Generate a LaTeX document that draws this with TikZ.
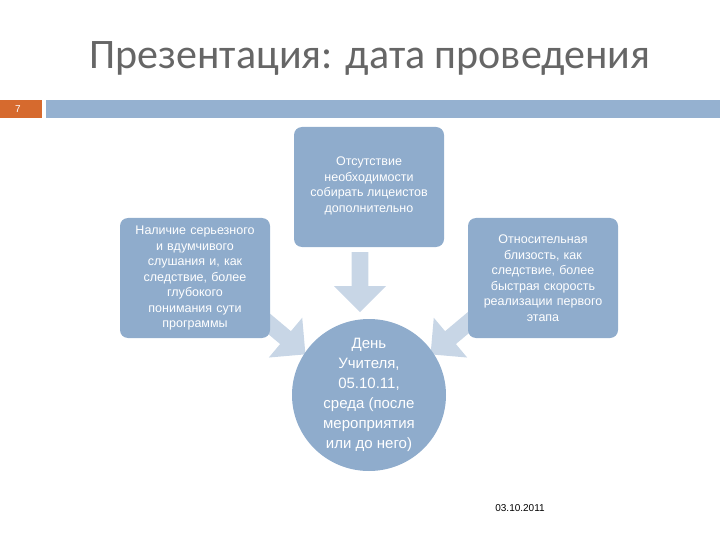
\documentclass[tikz,border=0pt]{standalone}
\usepackage{fontspec}
\setmainfont{Liberation Sans}
\newfontfamily\titlefont{Carlito}
\usetikzlibrary{shapes.arrows}
\definecolor{boxc}{RGB}{143,172,204}
\definecolor{barc}{RGB}{149,177,208}
\definecolor{arrc}{RGB}{200,214,230}
\definecolor{orc}{RGB}{214,106,46}
\begin{document}
\begin{tikzpicture}[x=1pt,y=-1pt,
  rbox/.style={fill=boxc,rounded corners=8pt,minimum width=150pt,minimum height=120pt,text=white,align=center,font=\fontsize{12.5}{15.5}\selectfont,text width=150pt,inner sep=0pt},
  arr/.style={single arrow,fill=arrc,minimum height=60pt,minimum width=52pt,single arrow head extend=13pt,inner sep=6pt}]
\useasboundingbox (0,0) rectangle (720,540);
\node[text=black!60,font=\titlefont\fontsize{42}{44}\selectfont] (title) at (370,58) {Презентация: дата проведения};
\fill[orc] (0,100) rectangle (42,118);
\node[text=white,font=\fontsize{10}{11}\selectfont] (num) at (18,109) {7};
\fill[barc] (46,100) rectangle (720,118);
\node[arr,rotate=-90] (a1) at (360,278) {};
\node[arr,rotate=-40,minimum height=58pt] (a2) at (280,333) {};
\node[arr,rotate=-140,minimum height=58pt] (a3) at (456,333) {};
\node[rbox] (top) at (369,187) {};
\node[text=white,align=center,font=\fontsize{12.5}{15.5}\selectfont] (toptxt) at (369,186) {Отсутствие\\необходимости\\собирать лицеистов\\дополнительно};
\node[rbox] (left) at (195,278) {Наличие серьезного\\и вдумчивого\\слушания и, как\\следствие, более\\глубокого\\понимания сути\\программы};
\node[rbox] (right) at (543,278) {Относительная\\близость, как\\следствие, более\\быстрая скорость\\реализации первого\\этапа};
\fill[boxc] (369,395) ellipse (77pt and 76pt);
\node[text=white,align=center,font=\fontsize{15}{20}\selectfont] (center) at (369,395) {День\\Учителя,\\05.10.11,\\среда (после\\мероприятия\\или до него)};
\node[font=\fontsize{10}{12}\selectfont] (date) at (520,508) {03.10.2011};
\end{tikzpicture}
\end{document}
